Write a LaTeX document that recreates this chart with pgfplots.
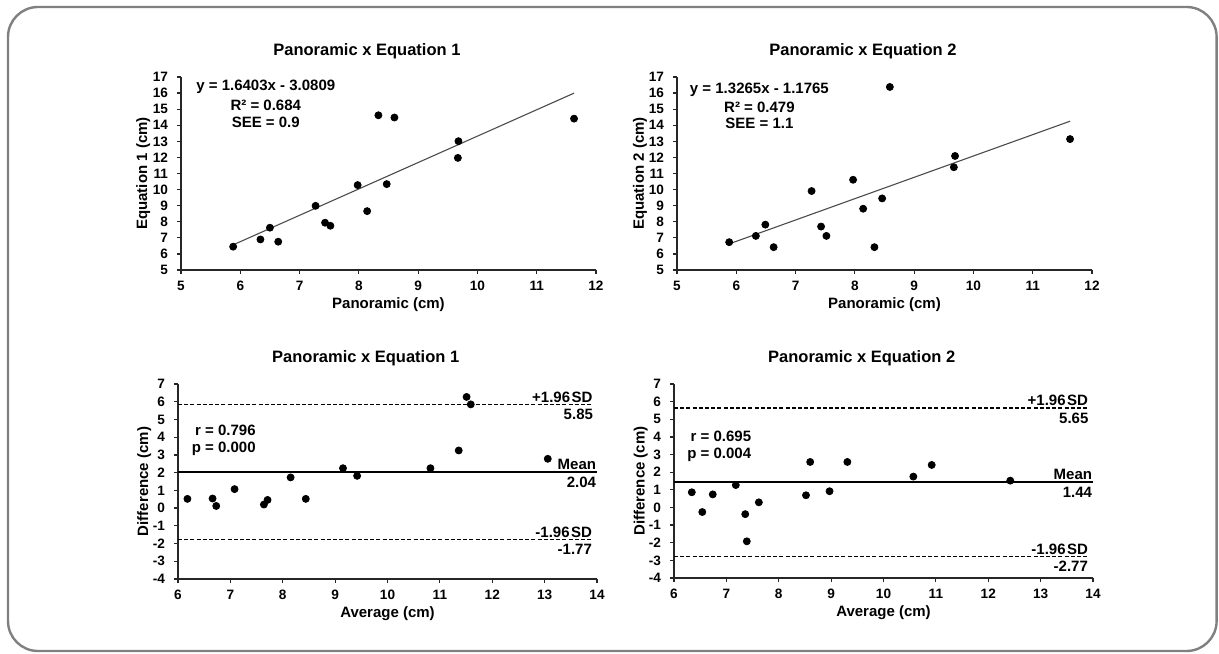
\documentclass[border=0pt]{standalone}
\usepackage{fontspec}
\setmainfont{Liberation Sans}
\usepackage{pgfplots}
\pgfplotsset{compat=1.18}

\pgfplotsset{
  panel/.style={
    scale only axis,
    axis x line=bottom, axis y line=left,
    axis line style={-, black!85, line width=0.6pt},
    tick align=outside, major tick length=2pt,
    tick style={black!85, line width=0.6pt},
    ticklabel style={font=\bfseries\fontsize{6.8}{7}\selectfont},
    yticklabel style={xshift=-1pt},
    /pgf/number format/assume math mode=true,
    xlabel style={font=\bfseries\fontsize{7.5}{8}\selectfont, at={(axis description cs:0.5,-0.18)}, anchor=center},
    ylabel style={font=\bfseries\fontsize{7.5}{8}\selectfont, anchor=center},
    title style={font=\bfseries\fontsize{8.25}{9}\selectfont, at={(axis description cs:0.448,1)}, anchor=center, yshift=7pt},
    clip=false,
  },
  dots/.style={only marks, mark=*, mark size=1.75pt, black},
  fit/.style={black!70, line width=0.55pt, no marks},
  mean/.style={black, line width=0.75pt, no marks},
  sd/.style={black, line width=0.75pt, no marks, dash pattern=on 2pt off 1.1pt},
}
\tikzset{note/.style={font=\bfseries\fontsize{7.5}{8}\selectfont, inner sep=0pt}}
\newcommand{\SD}{\kern0.7pt SD}

\begin{document}
\begin{tikzpicture}
\useasboundingbox (0,0) rectangle (609.5pt,326.5pt);
\fill[white] (0,0) rectangle (609.5pt,326.5pt);
\draw[line width=1.2pt, color={rgb,255:red,128;green,128;blue,128}, rounded corners=15pt]
  (4pt,1pt) rectangle (608.3pt,323pt);

% top left: regression, equation 1
\begin{axis}[panel, at={(90.5pt,191.5pt)}, anchor=south west,
  width=207.5pt, height=96.5pt,
  xmin=5, xmax=12, ymin=5, ymax=17,
  xtick={5,...,12}, ytick={5,...,17},
  title={Panoramic x Equation 1},
  xlabel={Panoramic (cm)}, ylabel={Equation 1 (cm)},
  ylabel style={at={(axis description cs:-0.0908,0.5)}}]
  \addplot[fit] coordinates {(5.88,6.564)(11.63,15.996)};
  \addplot[dots] coordinates {
    (5.88,6.45)(6.34,6.90)(6.50,7.63)(6.64,6.76)(7.27,8.99)
    (7.43,7.94)(7.52,7.75)(7.98,10.28)(8.14,8.66)(8.33,14.62)
    (8.47,10.34)(8.60,14.48)(9.68,13.01)(9.67,11.97)(11.63,14.41)
  };
  \node[note] at (axis cs:6.43,16.36) {y = 1.6403x - 3.0809};
  \node[note] at (axis cs:6.43,15.26) {R² = 0.684};
  \node[note] at (axis cs:6.43,14.18) {SEE = 0.9};
\end{axis}

% top right: regression, equation 2
\begin{axis}[panel, at={(338.5pt,191.5pt)}, anchor=south west,
  width=207.5pt, height=96.5pt,
  xmin=5, xmax=12, ymin=5, ymax=17,
  xtick={5,...,12}, ytick={5,...,17},
  title={Panoramic x Equation 2},
  xlabel={Panoramic (cm)}, ylabel={Equation 2 (cm)},
  ylabel style={at={(axis description cs:-0.089,0.5)}}]
  \addplot[fit] coordinates {(5.88,6.623)(11.63,14.251)};
  \addplot[dots] coordinates {
    (5.88,6.73)(6.33,7.12)(6.49,7.82)(6.63,6.42)(7.27,9.91)
    (7.43,7.70)(7.52,7.12)(7.97,10.61)(8.14,8.81)(8.33,6.42)
    (8.46,9.45)(8.59,16.38)(9.69,12.09)(9.67,11.39)(11.63,13.14)
  };
  \node[note] at (axis cs:6.39,16.19) {y = 1.3265x - 1.1765};
  \node[note] at (axis cs:6.39,15.09) {R² = 0.479};
  \node[note] at (axis cs:6.39,14.12) {SEE = 1.1};
\end{axis}

% bottom left: Bland-Altman, equation 1
\begin{axis}[panel, at={(89pt,37pt)}, anchor=south west,
  width=209.5pt, height=97.5pt,
  xmin=6, xmax=14, ymin=-4, ymax=7,
  xtick={6,...,14}, ytick={-4,...,7},
  title={Panoramic x Equation 1},
  xlabel={Average (cm)}, ylabel={Difference (cm)},
  ylabel style={at={(axis description cs:-0.0804,0.5)}}]
  \addplot[sd] coordinates {(6,5.85)(13.92,5.85)};
  \addplot[mean] coordinates {(6,2.04)(14,2.04)};
  \addplot[sd] coordinates {(6,-1.77)(13.92,-1.77)};
  \addplot[dots] coordinates {
    (6.18,0.52)(6.66,0.54)(6.73,0.12)(7.08,1.07)(7.64,0.20)
    (7.71,0.46)(8.15,1.73)(8.44,0.52)(9.15,2.25)(9.42,1.82)
    (10.82,2.25)(11.36,3.25)(11.51,6.27)(11.59,5.85)(13.06,2.78)
  };
  \node[note, anchor=east] at (axis cs:7.49,4.36) {r = 0.796};
  \node[note, anchor=east] at (axis cs:7.49,3.33) {p = 0.000};
  \node[note, anchor=base east, yshift=1.1pt] at (axis cs:13.92,5.85) {+1.96\SD};
  \node[note, anchor=base east, yshift=-7.7pt] at (axis cs:13.93,5.85) {5.85};
  \node[note, anchor=base east, yshift=1.1pt] at (axis cs:13.99,2.04) {Mean};
  \node[note, anchor=base east, yshift=-7.9pt] at (axis cs:13.99,2.04) {2.04};
  \node[note, anchor=base east, yshift=1.1pt] at (axis cs:13.91,-1.77) {-1.96\SD};
  \node[note, anchor=base east, yshift=-7.7pt] at (axis cs:13.91,-1.77) {-1.77};
\end{axis}

% bottom right: Bland-Altman, equation 2
\begin{axis}[panel, at={(337pt,37.5pt)}, anchor=south west,
  width=209.5pt, height=97pt,
  xmin=6, xmax=14, ymin=-4, ymax=7,
  xtick={6,...,14}, ytick={-4,...,7},
  title={Panoramic x Equation 2},
  xlabel={Average (cm)}, ylabel={Difference (cm)},
  ylabel style={at={(axis description cs:-0.0795,0.5)}}]
  \addplot[sd] coordinates {(6,5.65)(13.92,5.65)};
  \addplot[mean] coordinates {(6,1.44)(14,1.44)};
  \addplot[sd] coordinates {(6,-2.77)(13.92,-2.77)};
  \addplot[dots] coordinates {
    (6.34,0.86)(6.54,-0.26)(6.74,0.74)(7.18,1.27)(7.36,-0.38)
    (7.39,-1.92)(7.62,0.29)(8.52,0.69)(8.60,2.58)(8.97,0.92)
    (9.31,2.58)(10.57,1.75)(10.92,2.41)(12.42,1.52)
  };
  \node[note, anchor=east] at (axis cs:7.48,4.05) {r = 0.695};
  \node[note, anchor=east] at (axis cs:7.48,3.01) {p = 0.004};
  \node[note, anchor=base east, yshift=1.1pt] at (axis cs:13.91,5.65) {+1.96\SD};
  \node[note, anchor=base east, yshift=-7.7pt] at (axis cs:13.92,5.65) {5.65};
  \node[note, anchor=base east, yshift=1.1pt] at (axis cs:13.99,1.44) {Mean};
  \node[note, anchor=base east, yshift=-7.9pt] at (axis cs:13.99,1.44) {1.44};
  \node[note, anchor=base east, yshift=1.1pt] at (axis cs:13.91,-2.77) {-1.96\SD};
  \node[note, anchor=base east, yshift=-7.7pt] at (axis cs:13.91,-2.77) {-2.77};
\end{axis}
\end{tikzpicture}
\end{document}
